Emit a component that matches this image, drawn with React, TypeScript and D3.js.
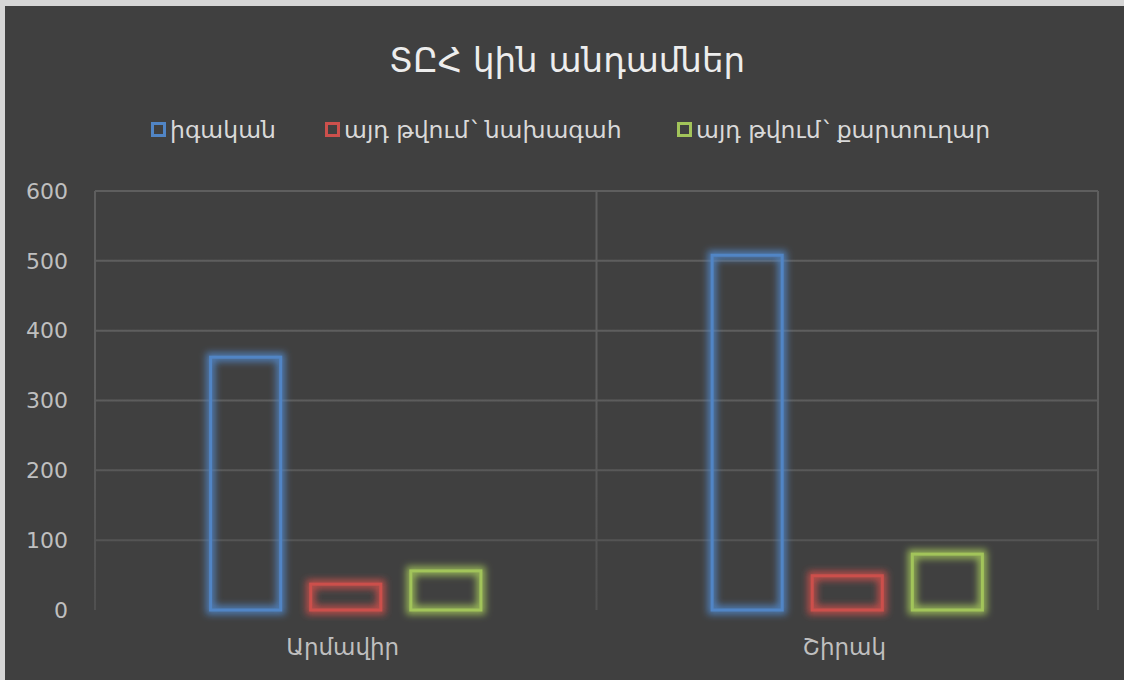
import React, { useMemo } from "react";
import * as d3 from "d3";

const W = 1124;
const H = 680;
const MARGIN = { left: 95, right: 26, top: 191, bottom: 70 };

const CATEGORIES = ["Արմավիր", "Շիրակ"];
const SERIES = ["իգական", "այդ թվում՝ նախագահ", "այդ թվում՝ քարտուղար"];
const COLORS = ["#5185c5", "#cc504c", "#a2c45a"];
const VALUES = [
  [362, 37, 56],
  [508, 49, 80],
];
const Y_TICKS = [0, 100, 200, 300, 400, 500, 600];
const LEGEND_X = [151, 325, 677];

const FONT = "'DejaVu Sans', sans-serif";

// the Armenian comma sits on the previous letter in DejaVu, so nudge it
function splitComma(s: string) {
  const parts = s.split("՝");
  if (parts.length === 1) return s;
  return (
    <>
      {parts[0]}
      <tspan dx={3}>՝</tspan>
      {parts[1]}
    </>
  );
}

export default function App() {
  const boundsW = W - MARGIN.left - MARGIN.right;
  const boundsH = H - MARGIN.top - MARGIN.bottom;

  const yScale = useMemo(
    () => d3.scaleLinear().domain([0, 600]).range([boundsH, 0]),
    [boundsH]
  );
  const x0 = useMemo(
    () => d3.scaleBand<string>().domain(CATEGORIES).range([0, boundsW]).padding(0),
    [boundsW]
  );
  const x1 = useMemo(
    () =>
      d3
        .scaleBand<string>()
        .domain(SERIES)
        .range([0, x0.bandwidth()])
        .paddingInner(0.27)
        .paddingOuter(1.14),
    [x0]
  );

  return (
    <div style={{ position: "absolute", left: 0, top: 0 }}>
      <svg width={W} height={H} style={{ display: "block" }}>
        <defs>
          <linearGradient id="grid" gradientUnits="userSpaceOnUse" x1={0} y1={MARGIN.top} x2={0} y2={MARGIN.top + boundsH}>
            <stop offset="0%" stopColor="#5e5e5e" />
            <stop offset="100%" stopColor="#444444" />
          </linearGradient>
          <filter id="glow" x="-40%" y="-40%" width="180%" height="180%">
            <feMorphology in="SourceGraphic" operator="dilate" radius="3" result="fat" />
            <feGaussianBlur in="fat" stdDeviation="3.5" result="blur" />
            <feComponentTransfer in="blur" result="dim">
              <feFuncA type="linear" slope="0.85" />
            </feComponentTransfer>
            <feMerge>
              <feMergeNode in="dim" />
              <feMergeNode in="SourceGraphic" />
            </feMerge>
          </filter>
        </defs>

        <rect x={0} y={0} width={W} height={H} fill="#d6d6d6" />
        <rect x={5} y={6} width={W - 5} height={H - 6} fill="#404040" />

        <text x={567} y={72} textAnchor="middle" fill="#ededed" fontSize={34} fontFamily={FONT}>
          ՏԸՀ կին անդամներ
        </text>

        {SERIES.map((s, i) => (
          <g key={s} transform={`translate(${LEGEND_X[i]},0)`}>
            <rect x={1.5} y={123.5} width={12} height={12} fill="none" stroke={COLORS[i]} strokeWidth={3} />
            <text x={19} y={138} fill="#d9d9d9" fontSize={23.5} fontFamily={FONT}>
              {splitComma(s)}
            </text>
          </g>
        ))}

        <g transform={`translate(${MARGIN.left},${MARGIN.top})`}>
          {Y_TICKS.filter((t) => t > 0).map((t) => (
            <line key={t} x1={0} x2={boundsW} y1={yScale(t)} y2={yScale(t)} stroke="url(#grid)" strokeWidth={2} />
          ))}
          {[0, ...CATEGORIES.map((c) => (x0(c) as number) + x0.bandwidth())].map((x, i) => (
            <line key={i} x1={x} x2={x} y1={0} y2={boundsH} stroke="url(#grid)" strokeWidth={2} />
          ))}

          {Y_TICKS.map((t) => (
            <text key={t} x={-27} y={yScale(t)} dy="0.35em" textAnchor="end" fill="#bfbfbf" fontSize={22} fontFamily={FONT}>
              {t}
            </text>
          ))}

          {CATEGORIES.map((c, ci) => (
            <g key={c} transform={`translate(${x0(c)},0)`}>
              {SERIES.map((s, si) => {
                const v = VALUES[ci][si];
                const x = x1(s) as number;
                const y = yScale(v);
                return (
                  <rect
                    key={s}
                    x={x + 1.5}
                    y={y}
                    width={x1.bandwidth() - 3}
                    height={boundsH - y}
                    fill="none"
                    stroke={COLORS[si]}
                    strokeWidth={3}
                    filter="url(#glow)"
                  />
                );
              })}
              <text x={x0.bandwidth() / 2 - 3} y={boundsH + 45} textAnchor="middle" fill="#bfbfbf" fontSize={23} fontFamily={FONT}>
                {c}
              </text>
            </g>
          ))}
        </g>
      </svg>
    </div>
  );
}
